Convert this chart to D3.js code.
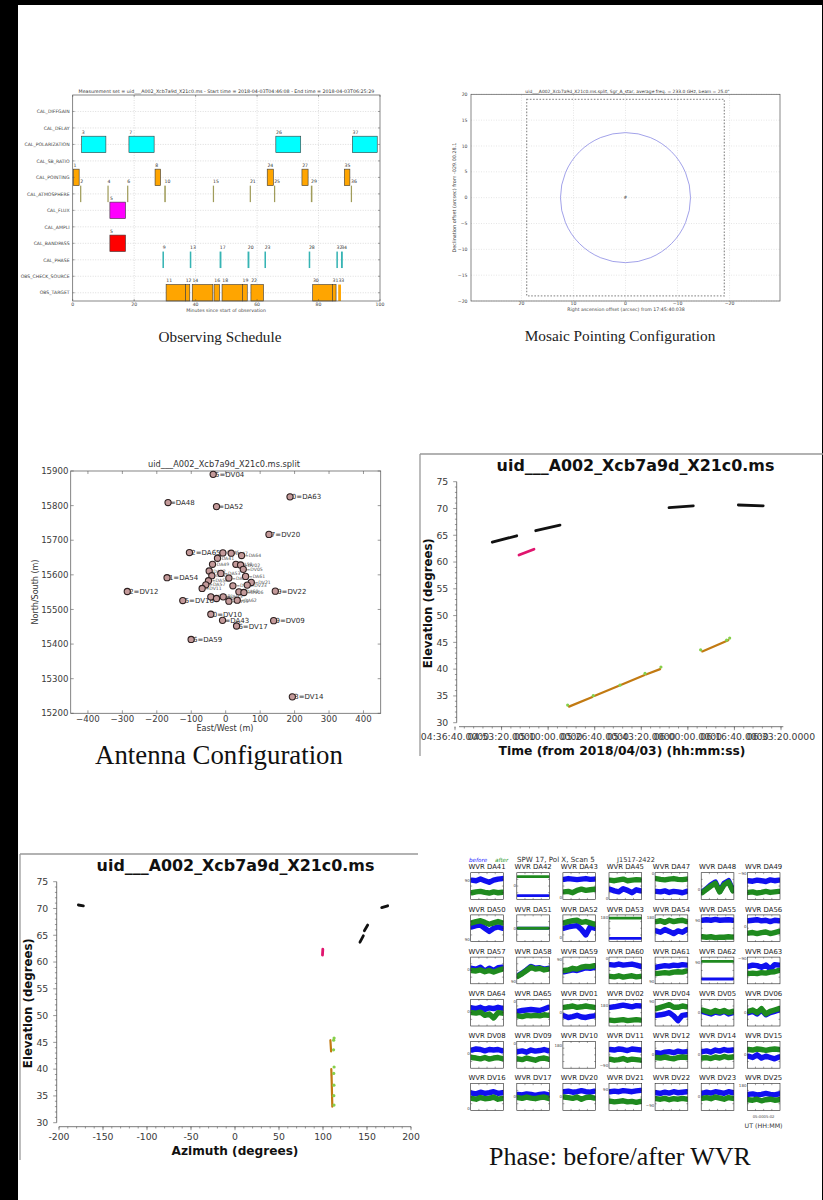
<!DOCTYPE html>
<html>
<head>
<meta charset="utf-8">
<script src="https://cdn.jsdelivr.net/npm/d3@7"></script>
<style>
  body { margin: 0; background: #000; }
  svg { display: block; }
</style>
</head>
<body>
<script>
// ---------------- Observing schedule ----------------
const intents = ["CAL_DIFFGAIN","CAL_DELAY","CAL_POLARIZATION","CAL_SB_RATIO","CAL_POINTING","CAL_ATMOSPHERE",
                 "CAL_FLUX","CAL_AMPLI","CAL_BANDPASS","CAL_PHASE","OBS_CHECK_SOURCE","OBS_TARGET"];
const scanNumber = [1,2,3,4,5,5,6,7,8,9,10,11,12,13,14,15,16,17,18,19,20,21,22,23,24,25,26,27,28,29,30,31,32,33,34,35,36,37];
const scanIntent = ["CAL_POINTING","CAL_ATMOSPHERE","CAL_POLARIZATION","CAL_ATMOSPHERE","CAL_FLUX","CAL_BANDPASS",
  "CAL_ATMOSPHERE","CAL_POLARIZATION","CAL_POINTING","CAL_PHASE","CAL_ATMOSPHERE","OBS_TARGET","OBS_TARGET","CAL_PHASE",
  "OBS_TARGET","CAL_ATMOSPHERE","OBS_TARGET","CAL_PHASE","OBS_TARGET","OBS_TARGET","CAL_PHASE","CAL_ATMOSPHERE","OBS_TARGET",
  "CAL_PHASE","CAL_POINTING","CAL_ATMOSPHERE","CAL_POLARIZATION","CAL_POINTING","CAL_PHASE","CAL_ATMOSPHERE","OBS_TARGET",
  "OBS_TARGET","CAL_PHASE","OBS_TARGET","CAL_PHASE","CAL_POINTING","CAL_ATMOSPHERE","CAL_POLARIZATION"];
const scanStartMin = [0.2,2.4,2.9,11.3,12.1,12.1,17.7,18.3,26.8,29.2,29.8,30.4,36.7,38.1,38.9,45.6,46.0,47.8,48.6,55.2,56.9,57.6,
  58.0,62.4,63.3,65.5,66.1,74.6,76.8,77.5,78.1,84.5,85.8,86.4,87.3,88.4,90.5,91.0];
const scanEndMin = [2.1,2.8,10.8,11.7,17.2,17.2,18.1,26.5,28.6,29.7,30.3,36.7,38.1,38.6,45.6,46.0,47.8,48.4,55.2,56.8,57.5,58.0,
  62.1,62.9,65.3,65.9,74.2,76.6,77.3,78.0,84.5,85.7,86.3,87.3,87.9,90.2,90.9,99.1];
const scheduleTicks = [0,20,40,60,80,100];

// ---------------- Mosaic pointing ----------------
const mosaicRA = [0];
const mosaicDec = [0];
const mosaicBeam = 25.0;
const mosaicExtent = 19;
const mosaicTicksX = [20,10,0,-10,-20];
const mosaicTicksY = [20,15,10,5,0,-5,-10,-15,-20];

// ---------------- Antenna positions ----------------
const antennaNames = ["DA41","DA42","DA43","DA45","DA47","DA48","DA49","DA50","DA51","DA52","DA53","DA54","DA55","DA56",
  "DA57","DA58","DA59","DA60","DA61","DA62","DA63","DA64","DA65","DV01","DV02","DV04","DV05","DV06","DV08","DV09","DV10",
  "DV11","DV12","DV14","DV15","DV16","DV17","DV20","DV21","DV22","DV23","DV25"];
const antennaEast = [-23.8,-48.0,-9.2,-8.2,16.0,-167.4,-38.3,29.6,-40.3,-26.7,-14.1,-170.3,9.2,-50.0,-57.7,-43.2,-100.4,38.3,
  57.7,33.5,186.7,46.1,-105.3,20.9,43.2,-36.4,51.0,52.9,-26.7,139.2,-43.2,-68.4,-285.7,193.5,9.2,-124.6,31.5,125.6,74.2,144.0,
  62.6,-7.3];
const antennaNorth = [15647.9,15611.1,15468.6,15663.4,15662.5,15808.8,15630.5,15630.5,15597.5,15797.2,15604.2,15591.7,15590.7,
  15583.0,15571.3,15536.4,15413.3,15550.9,15595.5,15526.7,15825.3,15655.7,15664.4,15568.4,15628.5,15890.3,15615.9,15549.0,
  15531.6,15467.7,15486.1,15560.7,15551.9,15247.5,15523.8,15525.8,15452.2,15716.8,15578.1,15552.9,15570.4,15536.4];
const antTicksX = [-400,-300,-200,-100,0,100,200,300,400];
const antTicksY = [15200,15300,15400,15500,15600,15700,15800,15900];

// ---------------- Elevation tracks (time / azimuth) ----------------
const trackKind = ["polcal","polcal","polcal","polcal","fluxcal","target","target","target","target","target"];
const trackT0 = ["04:50:01","05:05:33","05:53:15","06:18:04","04:59:34","05:17:28","05:26:30","05:36:00","05:45:00","06:05:10"];
const trackT1 = ["04:58:45","05:14:15","06:01:57","06:26:58","05:04:56","05:25:50","05:35:20","05:44:20","05:50:04","06:14:28"];
const trackEl0 = [63.7,65.85,70.15,70.65,61.3,33.0,35.0,37.05,39.0,43.3];
const trackEl1 = [64.9,66.9,70.5,70.5,62.4,34.8,36.9,38.85,40.0,45.4];
const trackAz0 = [142.0,147.0,166.7,-178.0,99.4,110.6,110.3,110.0,109.7,109.2];
const trackAz1 = [145.8,150.8,173.5,-172.3,99.8,110.3,110.0,109.7,109.4,108.4];
const phaseCalTime = ["05:16:59","05:26:09","05:35:43","05:44:40","05:50:22","06:04:34","06:13:52","06:14:58"];
const phaseCalEl = [33.3,35.05,37.0,39.2,40.4,43.6,45.4,45.8];
const phaseCalAz = [112.5,112.3,112.4,112.2,112.6,112.0,112.1,112.6];
const timeTicks = ["04:36:40","04:53:20","05:10:00","05:26:40","05:43:20","06:00:00","06:16:40","06:33:20"];
const elevTicks = [30,35,40,45,50,55,60,65,70,75];
const azTicks = [-200,-150,-100,-50,0,50,100,150,200];

// ---------------- WVR phase (deg), before / after correction ----------------
const wvrAntennas = ["DA41","DA42","DA43","DA45","DA47","DA48","DA49","DA50","DA51","DA52","DA53","DA54","DA55","DA56",
  "DA57","DA58","DA59","DA60","DA61","DA62","DA63","DA64","DA65","DV01","DV02","DV04","DV05","DV06",
  "DV08","DV09","DV10","DV11","DV12","DV14","DV15","DV16","DV17","DV20","DV21","DV22","DV23","DV25"];
const wvrBefore = [
  [79,72,94,72,50,79,94,101],[-130,-130,-130,-130,-130,-130,-130,-130],[90,101,94,86,94,101,90,94],
  [-43,-65,-79,-36,-58,-90,-50,-65],[-72,-79,-65,-86,-72,-79,-90,-72],[-79,-36,18,54,-72,36,72,-54],
  [72,65,79,72,61,83,72,79],
  [18,36,43,0,-43,0,18,0],[0,0,0,0,0,0,0,0],[0,18,29,36,-18,-90,18,0],
  [-137,-137,-137,-137,-137,-137,-137,-137],[-36,-54,-18,-43,-72,-36,-54,-18],[108,115,108,119,108,112,115,108],
  [101,108,115,101,108,90,108,101],
  [29,18,43,-7,29,0,36,43],[-72,-36,7,54,29,36,18,29],[-18,-7,7,0,18,36,29,43],
  [79,72,86,72,79,86,72,54],[43,54,65,58,72,65,79,72],[-115,-115,-115,-115,-115,-115,-115,-115],
  [54,72,65,43,72,18,79,72],
  [65,54,72,43,65,54,72,58],[18,29,36,43,36,29,50,72],[-43,-65,-54,-36,-58,-65,-50,-43],
  [72,79,90,101,90,79,94,90],[-36,-29,-18,0,-43,-108,-36,-29],[18,0,-18,7,-7,18,-18,0],
  [0,18,-18,36,-29,0,18,36],
  [65,79,72,54,72,65,72,54],[43,54,36,65,50,58,72,54],[],[72,65,79,72,58,79,72,65],
  [29,18,36,43,29,50,36,43],[43,54,36,65,50,72,58,65],[-18,-36,0,-43,-18,-36,-54,-29],
  [54,43,65,50,58,72,50,58],[36,29,43,36,22,36,43,29],[72,79,65,72,86,72,65,79],
  [72,79,72,86,79,72,83,90],[58,50,65,54,72,58,65,72],[50,65,54,72,61,50,72,58],[36,43,29,36,50,36,29,43]
];
const wvrAfter = [
  [-90,-79,-72,-86,-94,-79,-90,-83],[126,126,126,126,126,126,126,126],[-79,-72,-90,-58,-43,-58,-50,-43],
  [79,72,83,94,72,79,86,83],[101,90,83,94,101,90,86,94],[-90,-43,0,36,-79,18,54,-65],
  [-86,-79,-94,-86,-72,-86,-79,-72],
  [72,90,101,79,54,72,90,72],[0,0,0,0,0,0,0,0],[72,90,101,108,79,90,72,54],
  [137,137,137,137,137,137,137,137],[90,101,79,108,90,101,108,90],[-115,-122,-115,-126,-119,-122,-115,-119],
  [-65,-58,-72,-58,-50,-72,-58,-43],
  [0,-7,7,-18,0,-22,0,18],[-79,-43,0,43,18,29,7,18],[0,7,29,18,43,54,50,65],
  [-79,-86,-72,-90,-79,-72,-86,-79],[-43,-36,-29,-36,-22,-18,-22,-7],[122,122,122,122,122,122,122,122],
  [-43,-36,-43,-29,-36,-22,-18,0],
  [0,-7,7,-36,-18,-72,0,-7],[-43,-54,-36,-43,-36,-43,-29,-36],[72,79,90,72,79,90,79,72],
  [-101,-108,-101,-94,-108,-101,-94,-101],[54,72,90,108,72,72,90,79],[36,18,0,29,7,29,0,18],
  [18,36,0,54,-18,18,36,54],
  [-36,-43,-54,-36,-58,-43,-36,-50],[-54,-65,-43,-58,-72,-50,-43,-58],[],[-58,-72,-65,-50,-72,-58,-65,-72],
  [-36,-43,-29,-43,-54,-36,-29,-36],[-43,-36,-50,-29,-43,-22,-36,-29],[72,65,79,72,61,72,79,72],
  [-18,-29,-7,-22,-18,0,-29,-18],[-7,-18,0,-14,-22,-7,0,-18],[0,-7,-18,0,-29,-7,0,-14],
  [-54,-65,-58,-50,-65,-58,-72,-58],[-22,-29,-18,-36,-22,-29,-18,-29],[-18,-7,-22,0,-14,-29,-7,-18],[-36,-43,-29,-50,-36,-29,-43,-36]
];
const wvrTickText = ["90","0","0","0","0","0","-90","90","0","0","180","180","90","0","0","90","90","0","90","90","-90",
  "0","0","0","180","90","0","0","0","0","180","-90","0","0","0","0","0","0","90","-90","0","180"];
const wvrTickDeg = [72,0,-160,-165,165,-50,165,-150,0,-120,150,150,100,20,10,-150,150,160,-150,100,160,
  20,150,0,100,150,0,0,20,150,120,-150,0,0,0,-150,0,0,100,-110,0,160];

// ================= drawing =================
const W = 823, H = 1200;
const SANS = "'DejaVu Sans', sans-serif";
const SERIF = "'Liberation Serif', serif";
const svg = d3.select("body").append("svg").attr("width", W).attr("height", H);
svg.append("rect").attr("width", W).attr("height", H).attr("fill", "#000");
svg.append("rect").attr("x", 18).attr("y", 5).attr("width", 804).attr("height", 1195).attr("fill", "#fff");

// scale a text's font size so it spans the given width
function fit(sel, width) {
  const n = sel.node();
  const len = n.getComputedTextLength();
  const fs = parseFloat(sel.attr("font-size"));
  if (len > 0) sel.attr("font-size", fs * width / len);
  return sel;
}
function txt(g, x, y, s, size, opts = {}) {
  const t = g.append("text").attr("x", x).attr("y", y).text(s)
    .attr("font-family", opts.family || SANS).attr("font-size", size)
    .attr("fill", opts.fill || "#333").attr("text-anchor", opts.anchor || "start");
  if (opts.weight) t.attr("font-weight", opts.weight);
  if (opts.style) t.attr("font-style", opts.style);
  if (opts.rotate) t.attr("transform", `rotate(${opts.rotate},${x},${y})`);
  if (opts.width) fit(t, opts.width);
  return t;
}
const MINUS = s => String(s).replace("-", "\u2212");

// ---------- Observing schedule ----------
{
  const g = svg.append("g");
  const x = d3.scaleLinear().domain([0, 100]).range([72.7, 380]);
  const y = d3.scaleLinear().domain([-1, 11.5]).range([95, 301]);
  const rowH = y(1) - y(0);
  const intentColor = {
    CAL_POLARIZATION: "#00ffff", CAL_POINTING: "#ffa500", CAL_ATMOSPHERE: "#a09c5a", CAL_FLUX: "#ff00ff",
    CAL_BANDPASS: "#ff0000", CAL_PHASE: "#36b4b4", OBS_TARGET: "#ffa500"
  };
  g.selectAll(null).data(scheduleTicks.slice(1, -1)).join("line")
    .attr("x1", d => x(d)).attr("x2", d => x(d)).attr("y1", y.range()[0]).attr("y2", y.range()[1])
    .attr("stroke", "#bbb").attr("stroke-width", 0.5).attr("stroke-dasharray", "1,1.5");
  g.selectAll(null).data(intents).join("line")
    .attr("x1", x(0)).attr("x2", x(100)).attr("y1", (d, i) => y(i)).attr("y2", (d, i) => y(i))
    .attr("stroke", "#bbb").attr("stroke-width", 0.5).attr("stroke-dasharray", "1,1.5");
  const scans = scanNumber.map((n, i) => ({
    n, intent: scanIntent[i], s: scanStartMin[i], e: scanEndMin[i], row: intents.indexOf(scanIntent[i])
  }));
  g.selectAll(null).data(scans).join("rect")
    .attr("x", d => x(d.s)).attr("width", d => x(d.e) - x(d.s))
    .attr("y", d => y(d.row) - rowH / 2).attr("height", rowH)
    .attr("fill", d => intentColor[d.intent])
    .attr("stroke", d => (x(d.e) - x(d.s)) > 3 ? "#3a3a3a" : "none").attr("stroke-width", 0.6);
  g.selectAll(null).data(scans).join("text")
    .attr("x", d => x(d.s) + 0.2).attr("y", d => y(d.row) - rowH / 2 - 2.3)
    .text(d => d.n).attr("font-family", SANS).attr("font-size", 4.6).attr("fill", "#333");
  g.append("rect").attr("x", x(0)).attr("y", y.range()[0]).attr("width", x(100) - x(0))
    .attr("height", y.range()[1] - y.range()[0]).attr("fill", "none").attr("stroke", "#555").attr("stroke-width", 0.7);
  scheduleTicks.forEach(t => {
    g.append("line").attr("x1", x(t)).attr("x2", x(t)).attr("y1", 301).attr("y2", 299).attr("stroke", "#555").attr("stroke-width", 0.5);
    g.append("line").attr("x1", x(t)).attr("x2", x(t)).attr("y1", 95).attr("y2", 97).attr("stroke", "#555").attr("stroke-width", 0.5);
    txt(g, x(t), 305.8, t, 4.6, { anchor: "middle", fill: "#444" });
  });
  intents.forEach((d, i) => {
    txt(g, 69.6, y(i) + 1.7, d, 4.6, { anchor: "end", fill: "#444" });
    g.append("line").attr("x1", x(0)).attr("x2", x(0) + 2).attr("y1", y(i)).attr("y2", y(i)).attr("stroke", "#555").attr("stroke-width", 0.5);
    g.append("line").attr("x1", x(100)).attr("x2", x(100) - 2).attr("y1", y(i)).attr("y2", y(i)).attr("stroke", "#555").attr("stroke-width", 0.5);
  });
  txt(g, 226, 311.8, "Minutes since start of observation", 4.6, { anchor: "middle", fill: "#444", width: 80 });
  txt(g, 226.4, 93.2, "Measurement set = uid___A002_Xcb7a9d_X21c0.ms - Start time = 2018-04-03T04:46:08 - End time = 2018-04-03T06:25:29",
    4.6, { anchor: "middle", fill: "#333", width: 296 });
  txt(g, 220, 342, "Observing Schedule", 14, { anchor: "middle", family: SERIF, fill: "#222", width: 123 });
}

// ---------- Mosaic pointing configuration ----------
{
  const g = svg.append("g");
  const x = d3.scaleLinear().domain([29.7, -29.7]).range([471, 780]);
  const y = d3.scaleLinear().domain([-20, 20]).range([301, 94.3]);
  mosaicTicksX.forEach(t => {
    g.append("line").attr("x1", x(t)).attr("x2", x(t)).attr("y1", y(-20)).attr("y2", y(20))
      .attr("stroke", "#ccc").attr("stroke-width", 0.5).attr("stroke-dasharray", "1,1.5");
    txt(g, x(t), 305.2, MINUS(t), 4.6, { anchor: "middle", fill: "#444" });
  });
  mosaicTicksY.forEach(t => {
    g.append("line").attr("x1", x(29.7)).attr("x2", x(-29.7)).attr("y1", y(t)).attr("y2", y(t))
      .attr("stroke", "#ccc").attr("stroke-width", 0.5).attr("stroke-dasharray", "1,1.5");
    txt(g, 467.5, y(t) + 1.6, MINUS(t), 4.6, { anchor: "end", fill: "#444" });
  });
  g.append("rect").attr("x", x(mosaicExtent)).attr("y", y(mosaicExtent))
    .attr("width", x(-mosaicExtent) - x(mosaicExtent)).attr("height", y(-mosaicExtent) - y(mosaicExtent))
    .attr("fill", "none").attr("stroke", "#999").attr("stroke-width", 1.3).attr("stroke-dasharray", "1.6,1.6");
  mosaicRA.forEach((ra, i) => {
    const r = x(0) - x(mosaicBeam / 2);
    g.append("circle").attr("cx", x(ra)).attr("cy", y(mosaicDec[i])).attr("r", r)
      .attr("fill", "none").attr("stroke", "#7a7ae0").attr("stroke-width", 0.7);
    txt(g, x(ra), y(mosaicDec[i]) + 1.6, "#", 4.5, { anchor: "middle", fill: "#333" });
  });
  g.append("rect").attr("x", 471).attr("y", 94.3).attr("width", 309).attr("height", 206.7)
    .attr("fill", "none").attr("stroke", "#555").attr("stroke-width", 0.7);
  txt(g, 627.5, 93.2, "uid___A002_Xcb7a9d_X21c0.ms.split, Sgr_A_star, average freq. = 233.0 GHz, beam = 25.0\"", 4.6,
    { anchor: "middle", fill: "#333", width: 205 });
  txt(g, 456.5, 197.6, "Declination offset (arcsec) from -029.00.28.1", 4.6,
    { anchor: "middle", fill: "#444", rotate: -90, width: 110 });
  txt(g, 626, 311, "Right ascension offset (arcsec) from 17:45:40.038", 4.6, { anchor: "middle", fill: "#444", width: 118 });
  txt(g, 620, 341, "Mosaic Pointing Configuration", 14, { anchor: "middle", family: SERIF, fill: "#222", width: 191 });
}

// ---------- Antenna configuration ----------
{
  const g = svg.append("g");
  const x = d3.scaleLinear().domain([-450, 450]).range([70.7, 380.7]);
  const y = d3.scaleLinear().domain([15200, 15900]).range([713.3, 471]);
  const [x0, x1] = x.range(), [yb, yt] = y.range();
  g.append("rect").attr("x", x0).attr("y", yt).attr("width", x1 - x0).attr("height", yb - yt)
    .attr("fill", "none").attr("stroke", "#666").attr("stroke-width", 0.8);
  antTicksX.forEach(t => {
    g.append("line").attr("x1", x(t)).attr("x2", x(t)).attr("y1", yb).attr("y2", yb - 3).attr("stroke", "#555").attr("stroke-width", 0.6);
    g.append("line").attr("x1", x(t)).attr("x2", x(t)).attr("y1", yt).attr("y2", yt + 3).attr("stroke", "#555").attr("stroke-width", 0.6);
    txt(g, x(t), 722.3, MINUS(t), 8.6, { anchor: "middle", fill: "#3a3a3a" });
  });
  antTicksY.forEach(t => {
    g.append("line").attr("x1", x0).attr("x2", x0 + 3).attr("y1", y(t)).attr("y2", y(t)).attr("stroke", "#555").attr("stroke-width", 0.6);
    g.append("line").attr("x1", x1).attr("x2", x1 - 3).attr("y1", y(t)).attr("y2", y(t)).attr("stroke", "#555").attr("stroke-width", 0.6);
    txt(g, 68.5, y(t) + 3.1, t, 8.6, { anchor: "end", fill: "#3a3a3a" });
  });
  const ants = antennaNames.map((n, i) => ({ n, i, e: antennaEast[i], no: antennaNorth[i] }));
  ants.forEach(a => {
    a.crowded = ants.some(b => b !== a && Math.hypot(b.e - a.e, b.no - a.no) < 30);
  });
  g.selectAll(null).data(ants).join("text")
    .attr("x", d => x(d.e) - 2.6).attr("y", d => y(d.no) + (d.crowded ? 1.6 : 2.5))
    .text(d => `${d.i}=${d.n}`).attr("font-family", SANS)
    .attr("font-size", d => d.crowded ? 4.6 : 7).attr("fill", d => d.crowded ? "#555" : "#2a2a2a");
  g.selectAll(null).data(ants).join("circle")
    .attr("cx", d => x(d.e)).attr("cy", d => y(d.no)).attr("r", 3.1)
    .attr("fill", "#c49a9a").attr("stroke", "#2e2020").attr("stroke-width", 1.1);
  txt(g, 224, 466.5, "uid___A002_Xcb7a9d_X21c0.ms.split", 9, { anchor: "middle", fill: "#333", width: 152 });
  txt(g, 225, 731, "East/West (m)", 8.6, { anchor: "middle", fill: "#333", width: 57 });
  txt(g, 38, 592, "North/South (m)", 8.6, { anchor: "middle", fill: "#333", rotate: -90, width: 65 });
  txt(g, 219, 764, "Antenna Configuration", 24, { anchor: "middle", family: SERIF, fill: "#111", width: 248 });
}

// ---------- plotms-style elevation panels ----------
const parseT = d3.utcParse("%H:%M:%S");
const tracks = trackKind.map((k, i) => ({
  k, t0: parseT(trackT0[i]), t1: parseT(trackT1[i]), el0: trackEl0[i], el1: trackEl1[i], az0: trackAz0[i], az1: trackAz1[i]
}));
const phaseCal = phaseCalTime.map((t, i) => ({ t: parseT(t), el: phaseCalEl[i], az: phaseCalAz[i] }));
const trackColor = { polcal: "#111", fluxcal: "#e0156e", target: "#c27a12" };
const trackWidth = { polcal: 2.8, fluxcal: 2.8, target: 2.2 };

function plotmsPanel(g, o) {
  // frame lines
  g.append("line").attr("x1", o.fx0).attr("x2", o.fx1).attr("y1", o.fy0).attr("y2", o.fy0).attr("stroke", "#999").attr("stroke-width", 1.3);
  g.append("line").attr("x1", o.fx0).attr("x2", o.fx0).attr("y1", o.fy0).attr("y2", o.fy1).attr("stroke", "#999").attr("stroke-width", 1.3);
  const y = o.y, x = o.x;
  // y axis
  g.append("line").attr("x1", o.yAxisX).attr("x2", o.yAxisX).attr("y1", y(75)).attr("y2", y(30)).attr("stroke", "#555").attr("stroke-width", 0.8);
  g.selectAll(null).data(d3.range(30, 76, 1)).join("line")
    .attr("x1", o.yAxisX).attr("x2", d => o.yAxisX - (d % 5 === 0 ? 3.5 : 1.8))
    .attr("y1", d => y(d)).attr("y2", d => y(d)).attr("stroke", "#555").attr("stroke-width", 0.6);
  elevTicks.forEach(t => txt(g, o.yAxisX - 8.4, y(t) + 3.3, t, 9.3, { anchor: "end", fill: "#3a3a3a" }));
  // x axis
  g.append("line").attr("x1", o.xa0).attr("x2", o.xa1).attr("y1", o.xAxisY).attr("y2", o.xAxisY).attr("stroke", "#555").attr("stroke-width", 0.8);
  g.selectAll(null).data(o.minor).join("line")
    .attr("x1", d => x(d)).attr("x2", d => x(d)).attr("y1", o.xAxisY).attr("y2", o.xAxisY + 1.8)
    .attr("stroke", "#555").attr("stroke-width", 0.6);
  g.selectAll(null).data(o.major).join("line")
    .attr("x1", d => x(d)).attr("x2", d => x(d)).attr("y1", o.xAxisY).attr("y2", o.xAxisY + 3.5)
    .attr("stroke", "#555").attr("stroke-width", 0.6);
  o.major.forEach(t => txt(g, x(t), o.xAxisY + 13, o.fmt(t), 9.3, { anchor: "middle", fill: "#3a3a3a" }));
  // titles
  txt(g, o.titleX, o.titleY, "uid___A002_Xcb7a9d_X21c0.ms", 15, { anchor: "middle", weight: "bold", fill: "#111", width: 278 });
  txt(g, o.xlabX, o.xlabY, o.xlab, 11, { anchor: "middle", weight: "bold", fill: "#111", width: o.xlabW });
  txt(g, o.ylabX, (y(30) + y(75)) / 2 + 1, "Elevation (degrees)", 11, { anchor: "middle", weight: "bold", fill: "#111", rotate: -90, width: 130 });
}

// elevation vs time
{
  const g = svg.append("g");
  const x = d3.scaleUtc().domain([parseT(timeTicks[0]), parseT(timeTicks[timeTicks.length - 1])]).range([455, 781]);
  const y = d3.scaleLinear().domain([30, 75]).range([722.7, 481.7]);
  const t0 = parseT(timeTicks[0]).getTime();
  const minor = d3.range(0, 7001, 200).map(s => new Date(t0 + s * 1000));
  plotmsPanel(g, {
    x, y, fx0: 420, fx1: 823, fy0: 454, fy1: 756, yAxisX: 456.7, xAxisY: 726.7, xa0: 459, xa1: 783.3,
    major: timeTicks.map(parseT), minor, fmt: d => d3.utcFormat("%H:%M:%S")(d) + ".0000",
    titleX: 635.5, titleY: 470.5, xlab: "Time (from 2018/04/03) (hh:mm:ss)", xlabX: 622, xlabY: 754.5, xlabW: 247, ylabX: 432
  });
  g.selectAll(null).data(tracks).join("line")
    .attr("x1", d => x(d.t0)).attr("x2", d => x(d.t1)).attr("y1", d => y(d.el0)).attr("y2", d => y(d.el1))
    .attr("stroke", d => trackColor[d.k]).attr("stroke-width", d => trackWidth[d.k]).attr("stroke-linecap", "round");
  g.selectAll(null).data(phaseCal).join("circle")
    .attr("cx", d => x(d.t)).attr("cy", d => y(d.el)).attr("r", 1.6).attr("fill", "#86d04a");
}

// elevation vs azimuth
{
  const g = svg.append("g");
  const x = d3.scaleLinear().domain([-200, 200]).range([59, 411]);
  const y = d3.scaleLinear().domain([30, 75]).range([1122.7, 881.7]);
  plotmsPanel(g, {
    x, y, fx0: 20, fx1: 418, fy0: 854, fy1: 1160, yAxisX: 56.7, xAxisY: 1126.7, xa0: 59, xa1: 411,
    major: azTicks, minor: d3.range(-200, 201, 10), fmt: d => d,
    titleX: 235.5, titleY: 870.5, xlab: "Azimuth (degrees)", xlabX: 235, xlabY: 1154.5, xlabW: 127, ylabX: 32
  });
  g.selectAll(null).data(tracks).join("line")
    .attr("x1", d => x(d.az0)).attr("x2", d => x(d.az1)).attr("y1", d => y(d.el0)).attr("y2", d => y(d.el1))
    .attr("stroke", d => trackColor[d.k]).attr("stroke-width", d => trackWidth[d.k]).attr("stroke-linecap", "round");
  g.selectAll(null).data(phaseCal).join("circle")
    .attr("cx", d => x(d.az)).attr("cy", d => y(d.el)).attr("r", 1.6).attr("fill", "#86d04a");
}

// ---------- WVR phase grid ----------
{
  const g = svg.append("g");
  const col0 = 470.7, colStep = 46.1, row0 = 872.7, rowStep = 42.2, bw = 32.7, bh = 26.7;
  txt(g, 469, 862, "before", 5.6, { fill: "#1a1aff", style: "italic" });
  txt(g, 495, 862, "after", 5.6, { fill: "#2a9a2a", style: "italic" });
  txt(g, 517, 862, "SPW 17, Pol X, Scan 5", 5.6, { fill: "#333", width: 78 });
  txt(g, 617, 862, "J1517-2422", 5.6, { fill: "#333", width: 38 });
  const defs = svg.append("defs");
  wvrAntennas.forEach((name, i) => {
    const c = i % 7, r = Math.floor(i / 7);
    const bx = col0 + c * colStep, by = row0 + r * rowStep;
    const px = d3.scaleLinear().domain([0, 7]).range([bx + 1, bx + bw - 1]);
    const py = d3.scaleLinear().domain([180, -180]).range([by, by + bh]);
    defs.append("clipPath").attr("id", "wvr" + i).append("rect")
      .attr("x", bx).attr("y", by).attr("width", bw).attr("height", bh);
    g.append("rect").attr("x", bx).attr("y", by).attr("width", bw).attr("height", bh).attr("fill", "#fff");
    const line = d3.line().x((d, k) => px(k)).y(d => py(d));
    const flat = arr => arr.length && arr.every(v => v === arr[0]);
    const pg = g.append("g").attr("clip-path", `url(#wvr${i})`);
    [[wvrBefore[i], "#1010f0"], [wvrAfter[i], "#1f8a1f"]].forEach(([vals, col]) => {
      if (!vals.length) return;
      pg.append("path").attr("d", line(vals)).attr("fill", "none").attr("stroke", col)
        .attr("stroke-width", flat(vals) ? 2.8 : 5.4).attr("stroke-linejoin", "round").attr("stroke-linecap", "round");
    });
    g.append("rect").attr("x", bx).attr("y", by).attr("width", bw).attr("height", bh)
      .attr("fill", "none").attr("stroke", "#222").attr("stroke-width", 0.6);
    [0.25, 0.5, 0.75].forEach(f => {
      g.append("line").attr("x1", bx + f * bw).attr("x2", bx + f * bw).attr("y1", by + bh).attr("y2", by + bh - 1.5).attr("stroke", "#222").attr("stroke-width", 0.4);
      g.append("line").attr("x1", bx + f * bw).attr("x2", bx + f * bw).attr("y1", by).attr("y2", by + 1.5).attr("stroke", "#222").attr("stroke-width", 0.4);
      g.append("line").attr("x1", bx).attr("x2", bx + 1.5).attr("y1", by + f * bh).attr("y2", by + f * bh).attr("stroke", "#222").attr("stroke-width", 0.4);
      g.append("line").attr("x1", bx + bw).attr("x2", bx + bw - 1.5).attr("y1", by + f * bh).attr("y2", by + f * bh).attr("stroke", "#222").attr("stroke-width", 0.4);
    });
    txt(g, bx - 0.8, py(wvrTickDeg[i]) + 1.4, MINUS(wvrTickText[i]), 4, { anchor: "end", fill: "#444" });
    txt(g, bx + bw / 2, by - 3.4, "WVR " + name, 6.9, { anchor: "middle", fill: "#222" });
  });
  const lastX = col0 + 6 * colStep;
  txt(g, lastX + 16.3, 1118, "05:0005:02", 3.8, { anchor: "middle", fill: "#444" });
  txt(g, lastX + 16.3, 1128, "UT (HH:MM)", 5.6, { anchor: "middle", fill: "#333", width: 38 });
  txt(g, 620, 1165, "Phase: before/after WVR", 26, { anchor: "middle", family: SERIF, fill: "#111", width: 262 });
}
</script>
</body>
</html>
